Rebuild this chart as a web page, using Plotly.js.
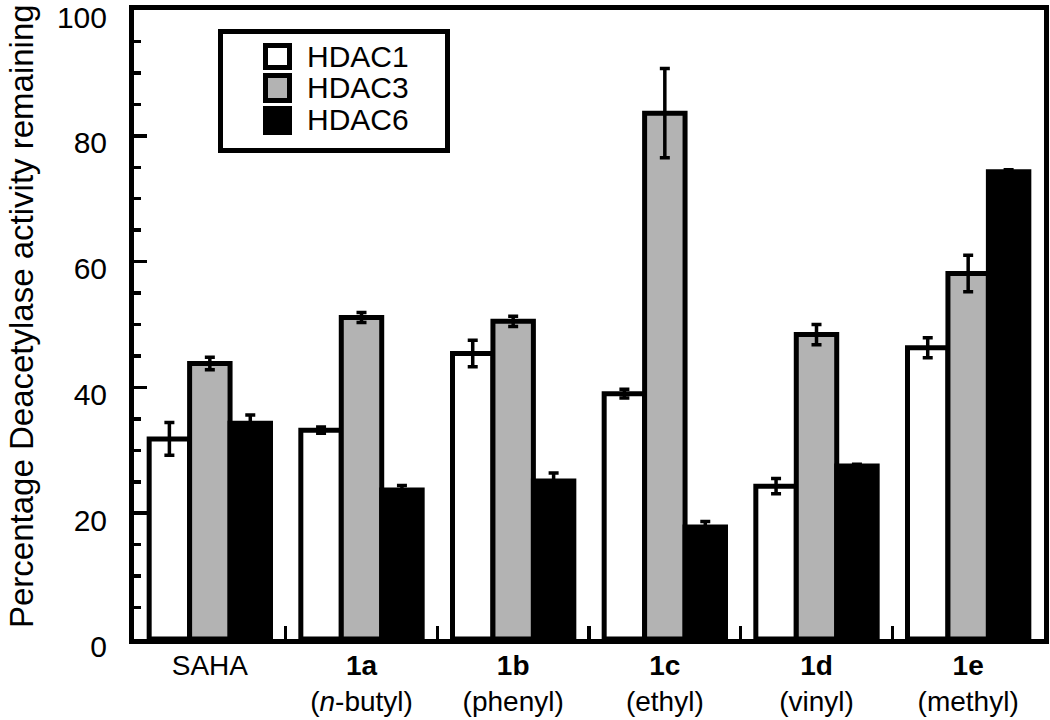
<!DOCTYPE html>
<html>
<head>
<meta charset="utf-8">
<script src="https://cdn.plot.ly/plotly-3.0.1.min.js"></script>
<style>html,body{margin:0;padding:0;background:#fff;}#chart{width:1050px;height:720px;}</style>
</head>
<body>
<div id="chart"></div>
<script>
// ---- data ----
const categories = ["SAHA", "<b>1a</b><br>(<i>n</i>-butyl)", "<b>1b</b><br>(phenyl)", "<b>1c</b><br>(ethyl)", "<b>1d</b><br>(vinyl)", "<b>1e</b><br>(methyl)"];
const seriesNames = ["HDAC1", "HDAC3", "HDAC6"];
const hdac1 = [31.8, 33.2, 45.4, 39.0, 24.3, 46.3];
const hdac1Err = [2.6, 0.5, 2.1, 0.7, 1.2, 1.6];
const hdac3 = [43.8, 51.1, 50.5, 83.6, 48.4, 58.1];
const hdac3Err = [1.0, 0.8, 0.8, 7.1, 1.6, 2.9];
const hdac6 = [34.3, 23.7, 25.1, 17.8, 27.5, 74.3];
const hdac6Err = [1.3, 0.7, 1.3, 0.9, 0.3, 0.3];
const yTickVals = [0, 20, 40, 60, 80, 100];
const yTickText = ["0", "20", "40", "60", "80", "100"];
const yTitle = "Percentage Deacetylase activity remaining";

// ---- style ----
const fills = ["#ffffff", "#b3b3b3", "#000000"];
const FONT = "Liberation Sans, Arial, Helvetica, sans-serif";
const values = [hdac1, hdac3, hdac6];
const errs = [hdac1Err, hdac3Err, hdac6Err];

const traces = values.map((v, i) => ({
  type: "bar",
  name: seriesNames[i],
  x: categories,
  y: v,
  marker: { color: fills[i], line: { color: "#000", width: 5 } },
  error_y: { type: "data", array: errs[i], visible: true, color: "#000", thickness: 3.5, width: 5 },
  showlegend: false,
  hoverinfo: "x+y"
}));

// plot area in pixels (for legend / title placement)
const L = 134, R = 1044, T = 10, B = 639;
const px = x => (x - L) / (R - L);
const py = y => (B - y) / (B - T);

const shapes = [{
  type: "rect", xref: "paper", yref: "paper",
  x0: px(220.5), x1: px(447.5), y0: py(150.5), y1: py(31.5),
  line: { color: "#000", width: 5 }, fillcolor: "#fff", layer: "above"
}];
const sw = [[45.5, 67.5], [75.5, 100.5], [108.5, 132.5]];
const textY = [56, 87, 119];
const annotations = [];
seriesNames.forEach((n, i) => {
  shapes.push({
    type: "rect", xref: "paper", yref: "paper",
    x0: px(265.5), x1: px(289.5), y0: py(sw[i][1]), y1: py(sw[i][0]),
    line: { color: "#000", width: 5 }, fillcolor: fills[i], layer: "above"
  });
  annotations.push({
    xref: "paper", yref: "paper", x: px(305), y: py(textY[i]),
    xanchor: "left", yanchor: "middle", showarrow: false,
    text: n, font: { family: FONT, size: 30, color: "#000" }
  });
});
// y-axis title
annotations.push({
  xref: "paper", yref: "paper", x: px(21), y: py(316),
  xanchor: "center", yanchor: "middle", showarrow: false, textangle: -90,
  text: yTitle, font: { family: FONT, size: 33, color: "#000" }
});

const layout = {
  width: 1050, height: 720,
  margin: { l: L, r: 1050 - R, t: T, b: 720 - B, pad: 0 },
  paper_bgcolor: "#fff", plot_bgcolor: "#fff",
  barmode: "group", bargap: 0.2, bargroupgap: 0,
  showlegend: false,
  font: { family: FONT, color: "#000" },
  xaxis: {
    type: "category",
    range: [-0.5, 5.5],
    showline: true, linecolor: "#000", linewidth: 5, mirror: true,
    ticks: "inside", tickson: "boundaries", ticklen: 13, tickwidth: 3.5, tickcolor: "#000",
    tickfont: { family: FONT, size: 28, color: "#000" },
    ticklabelstandoff: -3,
    showgrid: false, zeroline: false, fixedrange: true
  },
  yaxis: {
    range: [0, 100],
    tickvals: yTickVals, ticktext: yTickText,
    showline: true, linecolor: "#000", linewidth: 5, mirror: true,
    ticks: "inside", ticklen: 13, tickwidth: 3.5, tickcolor: "#000",
    minor: { dtick: 5, tick0: 0, ticks: "inside", ticklen: 7, tickwidth: 3.5, tickcolor: "#000", showgrid: false },
    tickfont: { family: FONT, size: 30, color: "#000" },
    ticklabelstandoff: 16, ticklabelshift: 7, ticklabeloverflow: "allow",
    showgrid: false, zeroline: false, fixedrange: true
  },
  shapes: shapes,
  annotations: annotations
};

Plotly.newPlot("chart", traces, layout, { displayModeBar: false, staticPlot: true });
</script>
</body>
</html>
